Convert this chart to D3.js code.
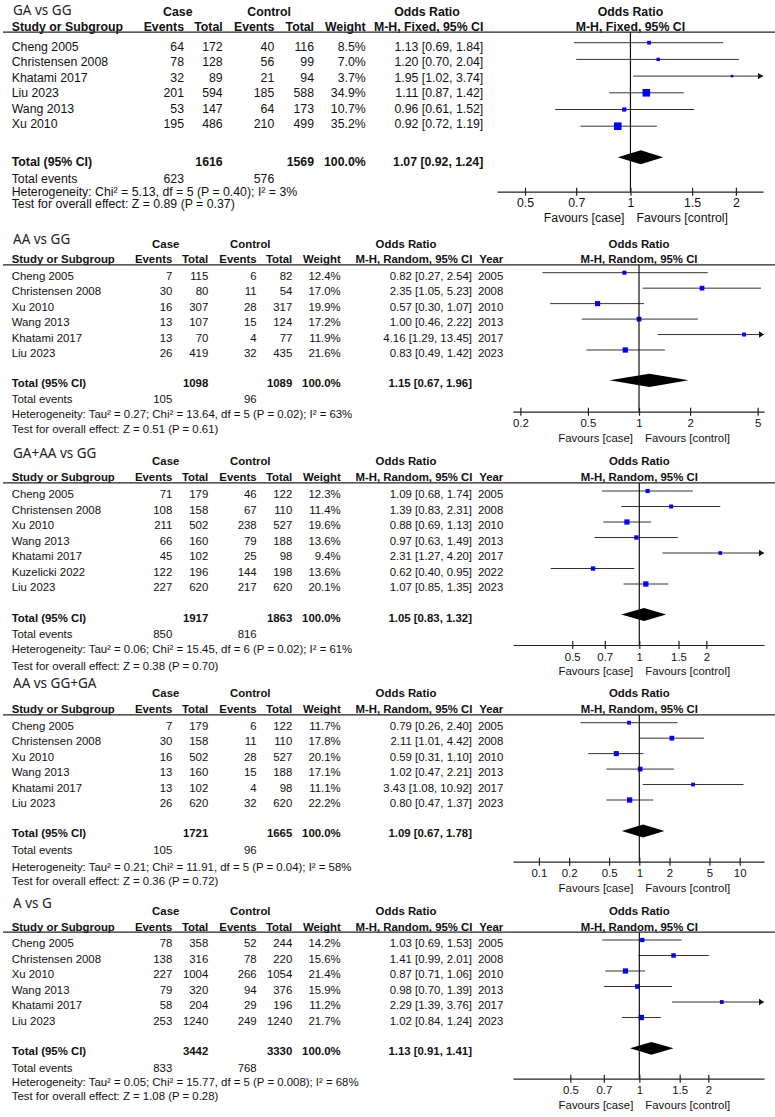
<!DOCTYPE html>
<html>
<head>
<meta charset="utf-8">
<script src="https://cdn.jsdelivr.net/npm/d3@7"></script>
<style>
body { margin: 0; background: #fff; }
svg { display: block; font-family: "Liberation Sans", Arial, sans-serif; }
.title { font-family: "Noto Sans", sans-serif; font-size: 13.5px; fill: #222; }
</style>
</head>
<body>
<script>
// panel titles and methods
var titles = ["GA vs GG", "AA vs GG", "GA+AA vs GG", "AA vs GG+GA", "A vs G"];
var methods = ["M-H, Fixed, 95% CI", "M-H, Random, 95% CI", "M-H, Random, 95% CI", "M-H, Random, 95% CI", "M-H, Random, 95% CI"];

// [study, case events, case total, control events, control total, weight %, OR, lower, upper, year]
var rowsGA = [
  ["Cheng 2005", 64, 172, 40, 116, 8.5, 1.13, 0.69, 1.84, null],
  ["Christensen 2008", 78, 128, 56, 99, 7.0, 1.20, 0.70, 2.04, null],
  ["Khatami 2017", 32, 89, 21, 94, 3.7, 1.95, 1.02, 3.74, null],
  ["Liu 2023", 201, 594, 185, 588, 34.9, 1.11, 0.87, 1.42, null],
  ["Wang 2013", 53, 147, 64, 173, 10.7, 0.96, 0.61, 1.52, null],
  ["Xu 2010", 195, 486, 210, 499, 35.2, 0.92, 0.72, 1.19, null]
];
var rowsAA = [
  ["Cheng 2005", 7, 115, 6, 82, 12.4, 0.82, 0.27, 2.54, 2005],
  ["Christensen 2008", 30, 80, 11, 54, 17.0, 2.35, 1.05, 5.23, 2008],
  ["Xu 2010", 16, 307, 28, 317, 19.9, 0.57, 0.30, 1.07, 2010],
  ["Wang 2013", 13, 107, 15, 124, 17.2, 1.00, 0.46, 2.22, 2013],
  ["Khatami 2017", 13, 70, 4, 77, 11.9, 4.16, 1.29, 13.45, 2017],
  ["Liu 2023", 26, 419, 32, 435, 21.6, 0.83, 0.49, 1.42, 2023]
];
var rowsDom = [
  ["Cheng 2005", 71, 179, 46, 122, 12.3, 1.09, 0.68, 1.74, 2005],
  ["Christensen 2008", 108, 158, 67, 110, 11.4, 1.39, 0.83, 2.31, 2008],
  ["Xu 2010", 211, 502, 238, 527, 19.6, 0.88, 0.69, 1.13, 2010],
  ["Wang 2013", 66, 160, 79, 188, 13.6, 0.97, 0.63, 1.49, 2013],
  ["Khatami 2017", 45, 102, 25, 98, 9.4, 2.31, 1.27, 4.20, 2017],
  ["Kuzelicki 2022", 122, 196, 144, 198, 13.6, 0.62, 0.40, 0.95, 2022],
  ["Liu 2023", 227, 620, 217, 620, 20.1, 1.07, 0.85, 1.35, 2023]
];
var rowsRec = [
  ["Cheng 2005", 7, 179, 6, 122, 11.7, 0.79, 0.26, 2.40, 2005],
  ["Christensen 2008", 30, 158, 11, 110, 17.8, 2.11, 1.01, 4.42, 2008],
  ["Xu 2010", 16, 502, 28, 527, 20.1, 0.59, 0.31, 1.10, 2010],
  ["Wang 2013", 13, 160, 15, 188, 17.1, 1.02, 0.47, 2.21, 2013],
  ["Khatami 2017", 13, 102, 4, 98, 11.1, 3.43, 1.08, 10.92, 2017],
  ["Liu 2023", 26, 620, 32, 620, 22.2, 0.80, 0.47, 1.37, 2023]
];
var rowsAllele = [
  ["Cheng 2005", 78, 358, 52, 244, 14.2, 1.03, 0.69, 1.53, 2005],
  ["Christensen 2008", 138, 316, 78, 220, 15.6, 1.41, 0.99, 2.01, 2008],
  ["Xu 2010", 227, 1004, 266, 1054, 21.4, 0.87, 0.71, 1.06, 2010],
  ["Wang 2013", 79, 320, 94, 376, 15.9, 0.98, 0.70, 1.39, 2013],
  ["Khatami 2017", 58, 204, 29, 196, 11.2, 2.29, 1.39, 3.76, 2017],
  ["Liu 2023", 253, 1240, 249, 1240, 21.7, 1.02, 0.84, 1.24, 2023]
];
var panelRows = [rowsGA, rowsAA, rowsDom, rowsRec, rowsAllele];

var totalN = [[1616, 1569], [1098, 1089], [1917, 1863], [1721, 1665], [3442, 3330]];
var totalEvents = [[623, 576], [105, 96], [850, 816], [105, 96], [833, 768]];
var pooledOR = [[1.07, 0.92, 1.24], [1.15, 0.67, 1.96], [1.05, 0.83, 1.32], [1.09, 0.67, 1.78], [1.13, 0.91, 1.41]];

var hetText = [
  "Heterogeneity: Chi\u00b2 = 5.13, df = 5 (P = 0.40); I\u00b2 = 3%",
  "Heterogeneity: Tau\u00b2 = 0.27; Chi\u00b2 = 13.64, df = 5 (P = 0.02); I\u00b2 = 63%",
  "Heterogeneity: Tau\u00b2 = 0.06; Chi\u00b2 = 15.45, df = 6 (P = 0.02); I\u00b2 = 61%",
  "Heterogeneity: Tau\u00b2 = 0.21; Chi\u00b2 = 11.91, df = 5 (P = 0.04); I\u00b2 = 58%",
  "Heterogeneity: Tau\u00b2 = 0.05; Chi\u00b2 = 15.77, df = 5 (P = 0.008); I\u00b2 = 68%"
];
var testText = [
  "Test for overall effect: Z = 0.89 (P = 0.37)",
  "Test for overall effect: Z = 0.51 (P = 0.61)",
  "Test for overall effect: Z = 0.38 (P = 0.70)",
  "Test for overall effect: Z = 0.36 (P = 0.72)",
  "Test for overall effect: Z = 1.08 (P = 0.28)"
];

var axisTicks = [
  [0.5, 0.7, 1, 1.5, 2],
  [0.2, 0.5, 1, 2, 5],
  [0.5, 0.7, 1, 1.5, 2],
  [0.1, 0.2, 0.5, 1, 2, 5, 10],
  [0.5, 0.7, 1, 1.5, 2]
];
var axisDomain = [[0.416, 2.39], [0.181, 5.45], [0.271, 3.63], [0.0552, 17.46], [0.281, 3.50]];

// layout
var colsFixed = {ce: 184, ct: 222.7, ke: 274.3, kt: 314, wt: 365.7, or: 483.3, yr: null, caseC: 177.8, ctrlC: 269.2, orC: 427, mh: 483.3};
var colsRandom = {ce: 172.3, ct: 208.3, ke: 256.7, kt: 292.3, wt: 340.7, or: 472, yr: 503.3, caseC: 165.7, ctrlC: 250.3, orC: 406, mh: 472.5};

var layout = [
  {fs: 12.3, tb: 15, cb: 16.3, sb: 30.7, r0: 50.7, step: 15.5, tt: 166.3, te: 183, hb: 195.7, ts: 208, ay: 191.7, x0: 497, x1: 763, m0: 42.7, mstep: 16.7, dy: 157.3, dh: 7, sq: 7.6, cols: colsFixed},
  {fs: 11.4, tb: 244, cb: 248.3, sb: 263.3, r0: 280, step: 15.46, tt: 386.7, te: 403, hb: 418.3, ts: 433, ay: 411.7, x0: 513, x1: 764, m0: 272.7, mstep: 15.46, dy: 380.3, dh: 6.6, sq: 5.3, cols: colsRandom},
  {fs: 11.4, tb: 458.3, cb: 465, sb: 481.3, r0: 498.3, step: 15.5, tt: 621.7, te: 638, hb: 653, ts: 670, ay: 645, x0: 513, x1: 764, m0: 491, mstep: 15.5, dy: 614.5, dh: 6.4, sq: 5.3, cols: colsRandom},
  {fs: 11.4, tb: 687.7, cb: 697.3, sb: 713.3, r0: 730, step: 15.46, tt: 836.7, te: 854, hb: 870.7, ts: 885, ay: 861.7, x0: 513, x1: 764, m0: 722.7, mstep: 15.46, dy: 831, dh: 6.4, sq: 5.3, cols: colsRandom},
  {fs: 11.4, tb: 908.3, cb: 915, sb: 930.7, r0: 947.3, step: 15.5, tt: 1055, te: 1071.7, hb: 1086, ts: 1100, ay: 1078.7, x0: 513, x1: 764, m0: 940, mstep: 15.5, dy: 1048.3, dh: 6.4, sq: 5.3, cols: colsRandom}
];

var w = 775;
var h = 1117;

var svg = d3.select("body")
            .append("svg")
            .attr("width", w)
            .attr("height", h);

svg.append("rect").attr("width", w).attr("height", h).attr("fill", "#fff");

var f2 = d3.format(".2f");
var f1 = d3.format(".1f");

function orText(o, l, u) {
    return f2(o) + " [" + f2(l) + ", " + f2(u) + "]";
}

function label(parent, x, y, s, anchor) {
    return parent.append("text")
        .attr("x", x)
        .attr("y", y)
        .attr("text-anchor", anchor || "start")
        .text(s);
}

function drawPanel(i) {
    var L = layout[i], c = L.cols, rows = panelRows[i];
    var dom = axisDomain[i];
    var g = svg.append("g").attr("font-size", L.fs).attr("fill", "#111");

    var x = d3.scaleLog().domain(dom).range([L.x0, L.x1]);
    var rowY = d3.scaleLinear().domain([0, 1]).range([L.r0, L.r0 + L.step]);
    var markY = d3.scaleLinear().domain([0, 1]).range([L.m0, L.m0 + L.mstep]);
    var side = d3.scaleSqrt().domain([0, d3.max(rows, function(d) { return d[5]; })]).range([0, L.sq]);

    svg.append("text").attr("class", "title").attr("x", 13).attr("y", L.tb).text(titles[i]);

    // header
    var hd = g.append("g").attr("font-weight", "bold");
    label(hd, c.caseC, L.cb, "Case", "middle");
    label(hd, c.ctrlC, L.cb, "Control", "middle");
    label(hd, c.orC, L.cb, "Odds Ratio", "middle");
    label(hd, x(1), L.cb, "Odds Ratio", "middle");
    label(hd, 11.7, L.sb, "Study or Subgroup");
    label(hd, c.ce, L.sb, "Events", "end");
    label(hd, c.ct, L.sb, "Total", "end");
    label(hd, c.ke, L.sb, "Events", "end");
    label(hd, c.kt, L.sb, "Total", "end");
    label(hd, c.wt, L.sb, "Weight", "end");
    label(hd, c.mh, L.sb, methods[i], "end");
    if (c.yr) label(hd, c.yr, L.sb, "Year", "end");
    label(hd, x(1), L.sb, methods[i], "middle");

    g.append("line")
        .attr("x1", 3).attr("x2", w)
        .attr("y1", L.sb + 1.5).attr("y2", L.sb + 1.5)
        .attr("stroke", "#222").attr("stroke-width", 1.2);

    // study rows
    var plot = svg.append("g");
    rows.forEach(function(r, k) {
        var y = rowY(k);
        label(g, 11.7, y, r[0]);
        label(g, c.ce, y, r[1], "end");
        label(g, c.ct, y, r[2], "end");
        label(g, c.ke, y, r[3], "end");
        label(g, c.kt, y, r[4], "end");
        label(g, c.wt, y, f1(r[5]) + "%", "end");
        label(g, c.or, y, orText(r[6], r[7], r[8]), "end");
        if (c.yr) label(g, c.yr, y, r[9], "end");

        var my = markY(k);
        var lo = Math.max(r[7], dom[0]), hi = Math.min(r[8], dom[1]);
        plot.append("line")
            .attr("x1", x(lo)).attr("x2", x(hi))
            .attr("y1", my).attr("y2", my)
            .attr("stroke", "#333").attr("stroke-width", 1);
        if (r[8] > dom[1]) {
            plot.append("polygon")
                .attr("points", [[x(dom[1]), my], [x(dom[1]) - 5, my - 3.2], [x(dom[1]) - 5, my + 3.2]].join(" "))
                .attr("fill", "#111");
        }
        if (r[7] < dom[0]) {
            plot.append("polygon")
                .attr("points", [[x(dom[0]), my], [x(dom[0]) + 5, my - 3.2], [x(dom[0]) + 5, my + 3.2]].join(" "))
                .attr("fill", "#111");
        }
        var s = Math.max(side(r[5]), 2);
        plot.append("rect")
            .attr("x", x(r[6]) - s / 2).attr("y", my - s / 2)
            .attr("width", s).attr("height", s)
            .attr("fill", "#0000ff");
    });

    // total
    var tg = g.append("g").attr("font-weight", "bold");
    label(tg, 11.7, L.tt, "Total (95% CI)");
    label(tg, c.ct, L.tt, totalN[i][0], "end");
    label(tg, c.kt, L.tt, totalN[i][1], "end");
    label(tg, c.wt, L.tt, "100.0%", "end");
    label(tg, c.or, L.tt, orText(pooledOR[i][0], pooledOR[i][1], pooledOR[i][2]), "end");

    label(g, 11.7, L.te, "Total events");
    label(g, c.ce, L.te, totalEvents[i][0], "end");
    label(g, c.ke, L.te, totalEvents[i][1], "end");
    label(g, 11.7, L.hb, hetText[i]);
    label(g, 11.7, L.ts, testText[i]);

    var p = pooledOR[i];
    plot.append("polygon")
        .attr("points", [[x(p[1]), L.dy], [x(p[0]), L.dy - L.dh], [x(p[2]), L.dy], [x(p[0]), L.dy + L.dh]].join(" "))
        .attr("fill", "#000");

    // line of no effect
    plot.append("line")
        .attr("x1", x(1)).attr("x2", x(1))
        .attr("y1", L.sb + 1.5).attr("y2", L.ay)
        .attr("stroke", "#111").attr("stroke-width", 1.2);

    // axis
    var ax = svg.append("g")
        .attr("transform", "translate(0," + L.ay + ")")
        .call(d3.axisBottom(x).tickValues(axisTicks[i]).tickFormat(function(d) { return d; }).tickSize(4).tickSizeOuter(0));
    ax.attr("font-size", L.fs).attr("font-family", null);
    ax.select(".domain").attr("stroke", "#222").attr("stroke-width", 1.2);
    ax.selectAll(".tick line").attr("y1", -4).attr("y2", 4).attr("stroke", "#222").attr("stroke-width", 1.2);
    ax.selectAll(".tick text").attr("y", 15.6).attr("dy", null).attr("fill", "#111");

    label(g, x(1) - 6, L.ay + 30, "Favours [case]", "end");
    label(g, x(1) + 6, L.ay + 30, "Favours [control]");
}

for (var i = 0; i < layout.length; i++) {
    drawPanel(i);
}
</script>
</body>
</html>
